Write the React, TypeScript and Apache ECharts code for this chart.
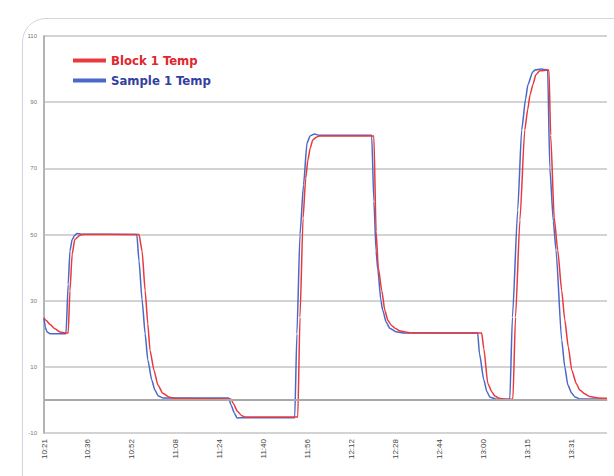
import React, { useEffect, useRef } from "react";
import * as echarts from "echarts";

const tickLabels = ["10:21", "10:36", "10:52", "11:08", "11:24", "11:40", "11:56", "12:12", "12:28", "12:44", "13:00", "13:15", "13:31"];
const seriesNames = ["Block 1 Temp", "Sample 1 Temp"];

// [x in tick-label units, temperature]
const blockTemp: [number, number][] = [
  [0, 24.8], [0.05, 24.0], [0.14, 22.8], [0.25, 21.5], [0.36, 20.5], [0.5, 20.2], [0.55, 20.2],
  [0.59, 33], [0.64, 44], [0.7, 48.5], [0.82, 49.8], [0.9, 50], [2.16, 50],
  [2.23, 45], [2.3, 33], [2.36, 23], [2.41, 15], [2.5, 9], [2.59, 4.5], [2.7, 2], [2.86, 0.8], [3.0, 0.4],
  [4.25, 0.3], [4.3, -1], [4.4, -3.5], [4.5, -4.8], [4.57, -5.2], [5.77, -5.2],
  [5.82, 25], [5.89, 55], [5.95, 67], [6.0, 72.5], [6.05, 76], [6.11, 78.6], [6.2, 79.5], [6.27, 79.8], [7.5, 79.8],
  [7.55, 51], [7.6, 40], [7.68, 33], [7.75, 27], [7.82, 24], [7.9, 22.5], [7.98, 21.7], [8.1, 20.8], [8.32, 20.3], [9.95, 20.2],
  [10.0, 15.5], [10.09, 5], [10.18, 2.5], [10.25, 1.2], [10.35, 0.5], [10.48, 0.2], [10.66, 0.2],
  [10.72, 25], [10.82, 54.4], [10.93, 81.6], [11.0, 88], [11.05, 92.2], [11.12, 95.5], [11.18, 98.2], [11.27, 99.5], [11.48, 99.7],
  [11.52, 80], [11.6, 55], [11.68, 45.3], [11.77, 33], [11.84, 24.2], [11.92, 16], [12.0, 9], [12.1, 5], [12.18, 3],
  [12.3, 1.8], [12.41, 1.0], [12.6, 0.6], [12.8, 0.5],
];

const sampleTemp: [number, number][] = [
  [0, 24.8], [0.03, 22], [0.07, 20.5], [0.14, 20.0], [0.5, 20.0],
  [0.55, 35], [0.59, 45], [0.64, 48.5], [0.7, 49.8], [0.75, 50.3], [0.85, 50.1], [2.11, 50],
  [2.16, 42], [2.23, 30.2], [2.3, 20], [2.36, 12.1], [2.45, 6], [2.52, 3], [2.6, 1.2], [2.7, 0.6], [4.2, 0.6],
  [4.25, -1.5], [4.33, -4], [4.39, -5.5], [4.45, -5.4], [5.7, -5.4],
  [5.75, 20], [5.82, 50], [5.9, 65], [5.98, 77.7], [6.05, 79.8], [6.15, 80.4], [6.25, 80.0], [7.45, 80.0],
  [7.5, 60], [7.55, 45], [7.59, 39.3], [7.66, 30], [7.7, 27.2], [7.78, 23.5], [7.86, 21.7], [8.0, 20.6], [8.2, 20.2], [9.86, 20.2],
  [9.9, 14], [10.0, 6], [10.07, 2.5], [10.14, 0.8], [10.3, 0.2], [10.59, 0.2],
  [10.65, 25], [10.77, 57.4], [10.86, 81.6], [10.95, 91], [11.0, 95.2], [11.11, 99.1], [11.16, 99.7], [11.3, 100], [11.45, 99.8],
  [11.5, 70], [11.58, 54], [11.64, 45.3], [11.77, 18.1], [11.84, 10], [11.91, 4.5], [12.0, 2], [12.07, 0.9], [12.18, 0.3], [12.8, 0.2],
];

const RED = "#e8393c";
const BLUE = "#4a68c8";

export default function App() {
  const ref = useRef<HTMLDivElement>(null);
  useEffect(() => {
    if (!ref.current) return;
    const chart = echarts.init(ref.current, null, { renderer: "svg" });
    chart.setOption({
      animation: false,
      backgroundColor: "transparent",
      grid: { left: 44, right: 7, top: 36, bottom: 43 },
      legend: {
        orient: "vertical",
        left: 68,
        top: 49,
        itemWidth: 33,
        itemHeight: 4,
        itemGap: 7,
        icon: "rect",
        data: [
          { name: seriesNames[0], textStyle: { color: "#e0262e" } },
          { name: seriesNames[1], textStyle: { color: "#3340a0" } },
        ],
        textStyle: {
          fontFamily: "'DejaVu Sans Condensed', 'DejaVu Sans', sans-serif",
          fontWeight: "bold",
          fontSize: 13,
        },
      },
      xAxis: {
        type: "value",
        min: 0,
        max: 12.8,
        interval: 1,
        axisLine: { show: true, lineStyle: { color: "#c4c4c4", width: 1.5 } },
        axisTick: { show: false },
        splitLine: { show: false },
        axisLabel: {
          rotate: 90,
          fontSize: 8,
          color: "#444",
          showMaxLabel: false,
          margin: 6,
          formatter: (v: number) => tickLabels[Math.round(v)] ?? "",
        },
      },
      yAxis: {
        type: "value",
        min: -10,
        max: 110,
        interval: 20,
        axisLine: { show: true, lineStyle: { color: "#b4b4b4", width: 2 } },
        axisTick: { show: false },
        splitLine: { show: true, lineStyle: { color: "#c4c4c4", width: 1.5 } },
        axisLabel: { fontSize: 6, color: "#777", margin: 7 },
      },
      series: [
        {
          name: seriesNames[0],
          type: "line",
          data: blockTemp,
          showSymbol: false,
          smooth: 0.2,
          smoothMonotone: "x",
          color: RED,
          lineStyle: { color: RED, width: 1.5 },
          z: 3,
          markLine: {
            silent: true,
            symbol: "none",
            label: { show: false },
            lineStyle: { color: "#a8a8a8", width: 2, type: "solid" },
            data: [{ yAxis: 0 }],
          },
        },
        {
          name: seriesNames[1],
          type: "line",
          data: sampleTemp,
          showSymbol: false,
          smooth: 0.2,
          smoothMonotone: "x",
          color: BLUE,
          lineStyle: { color: BLUE, width: 1.5 },
          z: 2,
        },
      ],
    });
    return () => chart.dispose();
  }, []);
  return (
    <div style={{ position: "fixed", left: 0, top: 0, width: 614, height: 476, background: "#fff", overflow: "hidden" }}>
      <div
        style={{
          position: "absolute",
          left: 22,
          top: 18,
          width: 660,
          height: 540,
          border: "1.5px solid #cfd7e0",
          borderRadius: 24,
          boxSizing: "border-box",
        }}
      />
      <div ref={ref} style={{ position: "absolute", left: 0, top: 0, width: 614, height: 476 }} />
    </div>
  );
}
